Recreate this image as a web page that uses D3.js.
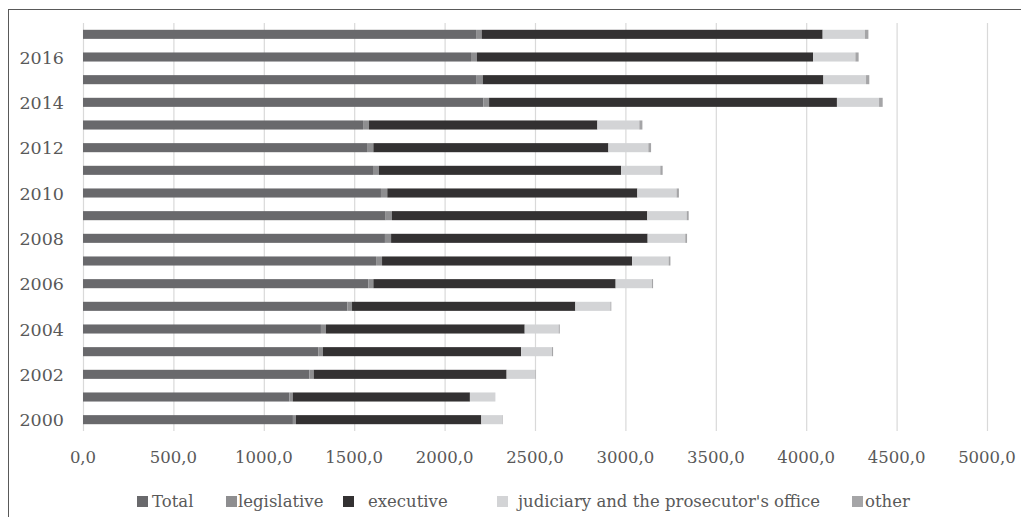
<!DOCTYPE html>
<html>
<head>
<meta charset="utf-8">
<script src="https://cdn.jsdelivr.net/npm/d3@7"></script>
<style>
  body { margin: 0; background: #fff; }
  svg text { font-family: "DejaVu Serif", "Liberation Serif", serif; fill: #595959; }
</style>
</head>
<body>
<svg id="chart" width="1021" height="517"></svg>
<script>
const years = [2000, 2001, 2002, 2003, 2004, 2005, 2006, 2007, 2008, 2009,
               2010, 2011, 2012, 2013, 2014, 2015, 2016, 2017]
const seriesNames = ['Total', 'legislative', 'executive', "judiciary and the prosecutor's office", 'other']
const total       = [1161, 1141, 1252, 1301, 1316, 1462, 1578, 1621, 1670, 1674, 1648, 1604, 1571, 1549, 2214, 2174, 2146, 2174]
const legislative = [17, 19, 24, 26, 28, 26, 28, 33, 34, 35, 35, 33, 35, 33, 32, 37, 33, 31]
const executive   = [1025, 980, 1067, 1096, 1099, 1235, 1340, 1383, 1419, 1412, 1383, 1339, 1300, 1263, 1924, 1884, 1859, 1886]
const judiciary   = [118, 139, 157, 171, 188, 194, 201, 202, 208, 218, 217, 217, 221, 232, 233, 236, 234, 234]
const other       = [2, 1, 3, 6, 6, 5, 6, 10, 10, 11, 13, 13, 15, 17, 20, 18, 18, 19]
const xTicks = [0, 500, 1000, 1500, 2000, 2500, 3000, 3500, 4000, 4500, 5000]
const yLabels = [2000, 2002, 2004, 2006, 2008, 2010, 2012, 2014, 2016]

const colors = ['#69696c', '#8e8e90', '#333132', '#d3d4d6', '#a5a5a7']

const rows = years.map((y, i) => ({
    year: y,
    Total: total[i],
    legislative: legislative[i],
    executive: executive[i],
    "judiciary and the prosecutor's office": judiciary[i],
    other: other[i]
}))

const svg = d3.select('#chart')

// outer frame
svg.append('rect')
    .attr('x', 8.5).attr('y', 9.5)
    .attr('width', 1030).attr('height', 530)
    .attr('fill', 'none').attr('stroke', '#595959').attr('stroke-width', 1)

const x = d3.scaleLinear().domain([0, 5000]).range([83, 987])
const y = d3.scaleBand()
    .domain(years.slice().reverse())
    .range([23, 431])
    .paddingInner(0.6)
    .paddingOuter(0.3)

// grid
svg.append('g')
    .attr('class', 'grid')
    .attr('transform', 'translate(0,431)')
    .call(d3.axisBottom(x).tickValues(xTicks).tickSize(-408).tickFormat(''))
    .call(g => g.select('.domain').remove())
    .call(g => g.selectAll('line').attr('stroke', '#d9d9d9').attr('stroke-width', 1.2))

const stack = d3.stack().keys(seriesNames)(rows)

svg.append('g')
    .selectAll('g')
    .data(stack)
    .enter()
    .append('g')
    .attr('fill', (d, i) => colors[i])
    .selectAll('rect')
    .data(d => d)
    .enter()
    .append('rect')
    .attr('x', d => x(d[0]))
    .attr('y', d => y(d.data.year))
    .attr('width', d => Math.max(0, x(d[1]) - x(d[0])))
    .attr('height', y.bandwidth())

// x tick labels
svg.append('g')
    .selectAll('text')
    .data(xTicks)
    .enter()
    .append('text')
    .attr('x', d => x(d))
    .attr('y', 463)
    .attr('text-anchor', 'middle')
    .style('font-size', '16.5px')
    .text(d => d3.format('.1f')(d).replace('.', ','))

// y labels
svg.append('g')
    .selectAll('text')
    .data(yLabels)
    .enter()
    .append('text')
    .attr('x', 64)
    .attr('y', d => y(d) + y.bandwidth() / 2 + 6.5)
    .attr('text-anchor', 'end')
    .style('font-size', '17.5px')
    .text(d => d)

// legend
const legendX = [137, 226, 343, 497, 852]
const textX   = [152, 238, 368, 518, 865]
const legend = svg.append('g')
seriesNames.forEach((name, i) => {
    legend.append('rect')
        .attr('x', legendX[i]).attr('y', 496)
        .attr('width', 11).attr('height', 11)
        .attr('fill', colors[i])
    legend.append('text')
        .attr('x', textX[i]).attr('y', 507)
        .style('font-size', '16.5px')
        .text(name)
})
</script>
</body>
</html>
